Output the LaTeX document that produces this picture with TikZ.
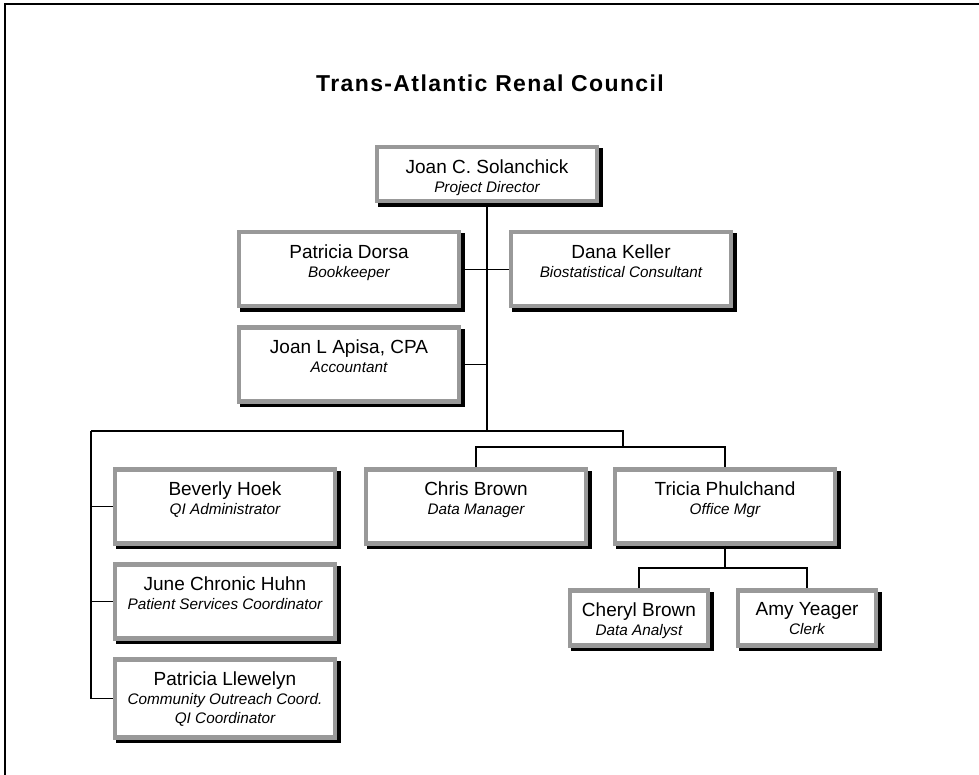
\documentclass[tikz,border=0pt]{standalone}
\usepackage{fontspec}
\setmainfont{Liberation Sans}
\newfontfamily\headfont[LetterSpace=6]{Liberation Sans}
\definecolor{frame}{RGB}{153,153,153}

\begin{document}
\begin{tikzpicture}[x=1pt,y=-1pt,
    post/.style={draw=frame, fill=white, line width=4.5pt, anchor=north,
      minimum width=220pt, minimum height=#1, inner sep=0pt,
      preaction={fill=black, draw=black,
        transform canvas={shift={(3.5pt,-3.5pt)}}}},
    post/.default=74pt,
    small/.style={post=55pt, minimum width=138pt},
    who/.style={anchor=north, align=center, inner sep=0pt,
      font=\fontsize{19}{19}\selectfont},
    wire/.style={line width=1.3pt}]
  \def\ttl{\fontsize{15.3}{19}\selectfont\itshape}
  \useasboundingbox (0,0) rectangle (979,775);
  \draw[line width=2pt] (979,4.3) -- (5.3,4.3) -- (5.3,775);
  \node[font=\headfont\fontsize{23}{24}\selectfont\bfseries,name=title]
    at (490,83) {Trans-Atlantic Renal Council};
  % boxes
  \node[post=54pt,name=solan] at (487,145) {};
  \node[post,name=dorsa] at (349,230) {};
  \node[post,name=keller] at (621,230) {};
  \node[post,name=apisa] at (349,325) {};
  \node[post,name=hoek] at (225,467) {};
  \node[post,name=huhn] at (225,562) {};
  \node[post=78pt,name=llew] at (225,657) {};
  \node[post,name=cbrown] at (476,467) {};
  \node[post,name=phul] at (725,467) {};
  \node[small,name=cheryl] at (639,588) {};
  \node[small,name=yeager] at (807,588) {};
  \foreach \p/\nm/\jb in {solan/Joan C. Solanchick/Project Director,
      dorsa/Patricia Dorsa/Bookkeeper,
      keller/Dana Keller/Biostatistical Consultant,
      apisa/{Joan L Apisa, CPA}/Accountant,
      hoek/Beverly Hoek/QI Administrator,
      huhn/June Chronic Huhn/Patient Services Coordinator,
      llew/Patricia Llewelyn/{Community Outreach Coord.\\\ttl QI Coordinator},
      cbrown/Chris Brown/Data Manager,
      phul/Tricia Phulchand/Office Mgr,
      cheryl/Cheryl Brown/Data Analyst,
      yeager/Amy Yeager/Clerk}
    \node[who,name=\p-t] at ([yshift=-14.5pt]\p.north) {\nm\\\ttl\jb};
  % lines
  \coordinate (hub) at (solan.south |- 0,431);
  \coordinate (lft) at (91,431);
  \coordinate (rgt) at (623,431);
  \coordinate (fork) at (623,447);
  \coordinate (sub) at (phul.south |- 0,568);
  \draw[wire] (solan.south) -- (hub);
  \draw[wire] (dorsa.east) -- (keller.west);
  \draw[wire] (apisa.east) -- (apisa.east -| hub);
  \draw[wire] (lft) -- (rgt) -- (fork);
  \draw[wire] (lft) |- (llew.west);
  \foreach \p in {hoek,huhn}
    \draw[wire] (\p.west) -- (\p.west -| lft);
  \draw[wire] (cbrown.north) |- (fork) -| (phul.north);
  \draw[wire] (phul.south) -- (sub);
  \draw[wire] (cheryl.north) |- (sub) -| (yeager.north);
\end{tikzpicture}
\end{document}
